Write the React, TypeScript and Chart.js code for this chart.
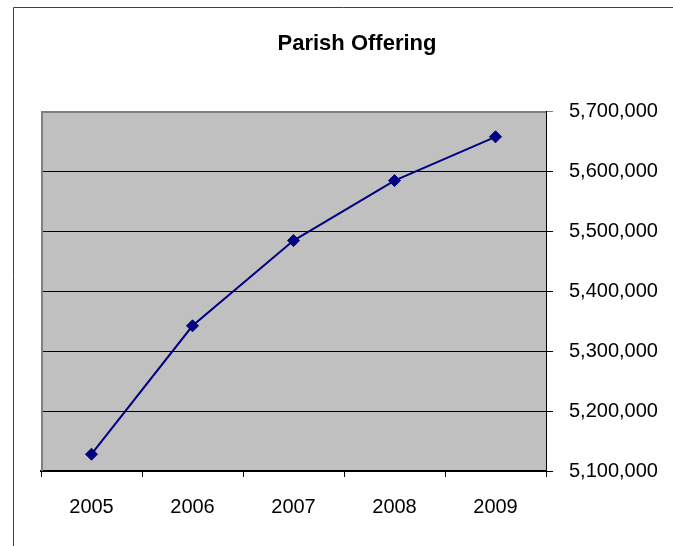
import React, { useEffect, useRef } from "react";
import { Chart, registerables } from "chart.js";

Chart.register(...registerables);

const categories = ["2005", "2006", "2007", "2008", "2009"];
const offering = [5128000, 5342000, 5484000, 5584000, 5657000];
const yMin = 5100000;
const yMax = 5700000;
const yStep = 100000;
const title = "Parish Offering";

const frame = {
  id: "frame",
  beforeDraw(chart: any) {
    const { ctx, chartArea } = chart;
    ctx.save();
    ctx.fillStyle = "#ffffff";
    ctx.fillRect(0, 0, chart.width, chart.height);
    ctx.strokeStyle = "#404040";
    ctx.lineWidth = 1;
    ctx.beginPath();
    ctx.moveTo(13.5, chart.height);
    ctx.lineTo(13.5, 7.5);
    ctx.lineTo(chart.width, 7.5);
    ctx.stroke();
    ctx.fillStyle = "#c0c0c0";
    ctx.fillRect(chartArea.left, chartArea.top, chartArea.right - chartArea.left, chartArea.bottom - chartArea.top);
    ctx.restore();
  },
  afterDatasetsDraw() {},
  beforeDatasetsDraw(chart: any) {
    const { ctx, chartArea } = chart;
    ctx.save();
    ctx.strokeStyle = "#808080";
    ctx.lineWidth = 2;
    ctx.beginPath();
    ctx.moveTo(chartArea.left + 1, chartArea.bottom);
    ctx.lineTo(chartArea.left + 1, chartArea.top + 1);
    ctx.lineTo(chartArea.right, chartArea.top + 1);
    ctx.stroke();
    ctx.restore();
  },
};

export default function App() {
  const ref = useRef<HTMLCanvasElement | null>(null);
  useEffect(() => {
    if (!ref.current) return;
    const chart = new Chart(ref.current, {
      type: "line",
      data: {
        labels: categories,
        datasets: [
          {
            data: offering,
            borderColor: "#000080",
            backgroundColor: "#000080",
            borderWidth: 2,
            pointStyle: "rectRot",
            pointRadius: 6,
            pointBorderWidth: 1,
            pointBackgroundColor: "#000080",
            pointBorderColor: "#000080",
            tension: 0,
          },
        ],
      },
      options: {
        animation: false,
        responsive: false,
        maintainAspectRatio: false,
        layout: { padding: { left: 41, right: 0, top: 0, bottom: 0 } },
        plugins: {
          legend: { display: false },
          tooltip: { enabled: false },
          title: {
            display: true,
            text: title,
            color: "#000000",
            font: { family: "'Liberation Sans', Arial, sans-serif", size: 22, weight: "bold" },
            padding: { top: 31, bottom: 53.6 },
          },
        },
        scales: {
          x: {
            type: "category",
            offset: true,
            grid: {
              offset: true,
              drawOnChartArea: false,
              drawTicks: true,
              tickLength: 6,
              color: "#000000",
            },
            border: { display: true, color: "#000000", width: 2 },
            ticks: {
              color: "#000000",
              padding: 18,
              maxRotation: 0,
              font: { family: "'Liberation Sans', Arial, sans-serif", size: 20 },
            },
            afterFit(scale: any) {
              scale.height = 75;
            },
          },
          y: {
            position: "right",
            min: yMin,
            max: yMax,
            grid: {
              drawOnChartArea: true,
              drawTicks: true,
              tickLength: 7,
              color: (c: any) => (c.tick && c.tick.value === yMax ? "#808080" : "#000000"),
            },
            border: { display: true, color: "#000000", width: 1 },
            ticks: {
              stepSize: yStep,
              color: "#000000",
              padding: 16,
              font: { family: "'Liberation Sans', Arial, sans-serif", size: 20 },
              callback: (v: any) => Number(v).toLocaleString("en-US"),
            },
            afterFit(scale: any) {
              scale.width = 127;
            },
          },
        },
      },
      plugins: [frame],
    });
    return () => chart.destroy();
  }, []);
  return (
    <div style={{ position: "absolute", left: 0, top: 0, width: 673, height: 546 }}>
      <canvas ref={ref} width={673} height={546} style={{ display: "block", width: 673, height: 546 }} />
    </div>
  );
}
